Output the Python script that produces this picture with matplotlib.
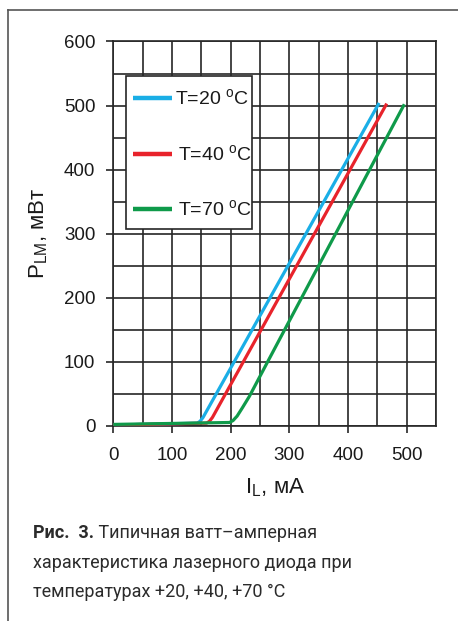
import matplotlib
matplotlib.use("Agg")
import matplotlib.pyplot as plt
from matplotlib.lines import Line2D
from matplotlib.patches import Rectangle

plt.rcParams['font.family'] = ['Liberation Sans', 'DejaVu Sans']
plt.rcParams['mathtext.fontset'] = 'custom'
plt.rcParams['mathtext.rm'] = 'Liberation Sans'
plt.rcParams['mathtext.it'] = 'Liberation Sans'

# Ватт-амперные характеристики: ток I_L (мА) -> мощность P_LM (мВт)
current_20 = [0, 143, 148, 153, 453]
power_20 = [1, 4, 7, 13, 504]

current_40 = [0, 159, 164, 169, 466]
power_40 = [1, 4, 7, 13, 503]

current_70 = [0, 198, 204, 211, 220, 232, 262, 496]
power_70 = [2, 5, 8, 15, 28, 46, 98, 502]

labels = [r'T=20 $^{\rm o}$C', r'T=40 $^{\rm o}$C', r'T=70 $^{\rm o}$C']
colors = ['#1aaee6', '#e8232b', '#0f9a4a']

x_ticks = [0, 100, 200, 300, 400, 500]
y_ticks = [0, 100, 200, 300, 400, 500, 600]

fig = plt.figure(figsize=(4.58, 6.21), dpi=100)
ax = fig.add_axes([0.2474, 0.3145, 0.7046, 0.6187])

series = [(current_20, power_20), (current_40, power_40), (current_70, power_70)]
for (cur, pw), col in zip(series, colors):
    ax.plot(cur, pw, color=col, lw=2.3,
            solid_capstyle='butt', solid_joinstyle='round', zorder=3)

ax.set_xlim(0, 550)
ax.set_ylim(0, 600)
ax.set_xticks(x_ticks)
ax.set_yticks(y_ticks)
ax.set_xticks(range(50, 551, 100), minor=True)
ax.set_yticks(range(50, 601, 100), minor=True)
ax.grid(True, which='both', color='#262626', lw=1.2, zorder=1)
ax.tick_params(which='major', direction='out', length=5, width=1.2,
               color='#262626', labelsize=13.5, labelcolor='#1a1a1a')
ax.tick_params(axis='x', which='major', pad=10)
ax.tick_params(axis='y', which='major', pad=8)
ax.tick_params(which='minor', length=0)
for sp in ax.spines.values():
    sp.set_color('#262626')
    sp.set_linewidth(1.2)

ax.set_xlabel(r'I$_{\rm L}$, мА', fontsize=16, color='#1a1a1a', labelpad=9)
ax.set_ylabel(r'P$_{\rm LM}$, мВт', fontsize=16, color='#1a1a1a', labelpad=10)

# легенда в рамке
ax.add_patch(Rectangle((0.039, 0.512), 0.391, 0.398, transform=ax.transAxes,
                       facecolor='white', edgecolor='#262626', lw=1.2, zorder=5))
key_y = [0.852, 0.707, 0.564]
text_x = [0.191, 0.200, 0.200]
for ky, tx, lab, col in zip(key_y, text_x, labels, colors):
    ax.plot([0.061, 0.182], [ky, ky], color=col, lw=3.2, transform=ax.transAxes,
            solid_capstyle='butt', zorder=6)
    ax.text(tx, ky, lab, transform=ax.transAxes, fontsize=14, color='#1a1a1a',
            va='center', ha='left', zorder=6)

# рамка врезки
fig.add_artist(Line2D([0.0175, 1.0], [0.984, 0.984], color='#555555', lw=1.2))
fig.add_artist(Line2D([0.0175, 0.0175], [0.0, 0.984], color='#555555', lw=1.2))

# подпись к рисунку
cap_font = ['Roboto', 'DejaVu Sans']
cap_size = 13
t1 = fig.text(0.072, 1 - 538 / 621, 'Рис.  3.', fontsize=cap_size, fontweight='bold',
              family=cap_font, color='#2b2b2b', va='baseline')
ax.annotate(' Типичная ватт–амперная', xy=(1, 0), xycoords=t1,
            fontsize=cap_size, family=cap_font, color='#2b2b2b',
            va='bottom', ha='left', annotation_clip=False)
fig.text(0.072, 1 - 568 / 621, 'характеристика лазерного диода при',
         fontsize=cap_size, family=cap_font, color='#2b2b2b', va='baseline')
fig.text(0.072, 1 - 597 / 621, 'температурах +20, +40, +70 °C',
         fontsize=cap_size, family=cap_font, color='#2b2b2b', va='baseline')

fig.savefig('out.png', dpi=100)
